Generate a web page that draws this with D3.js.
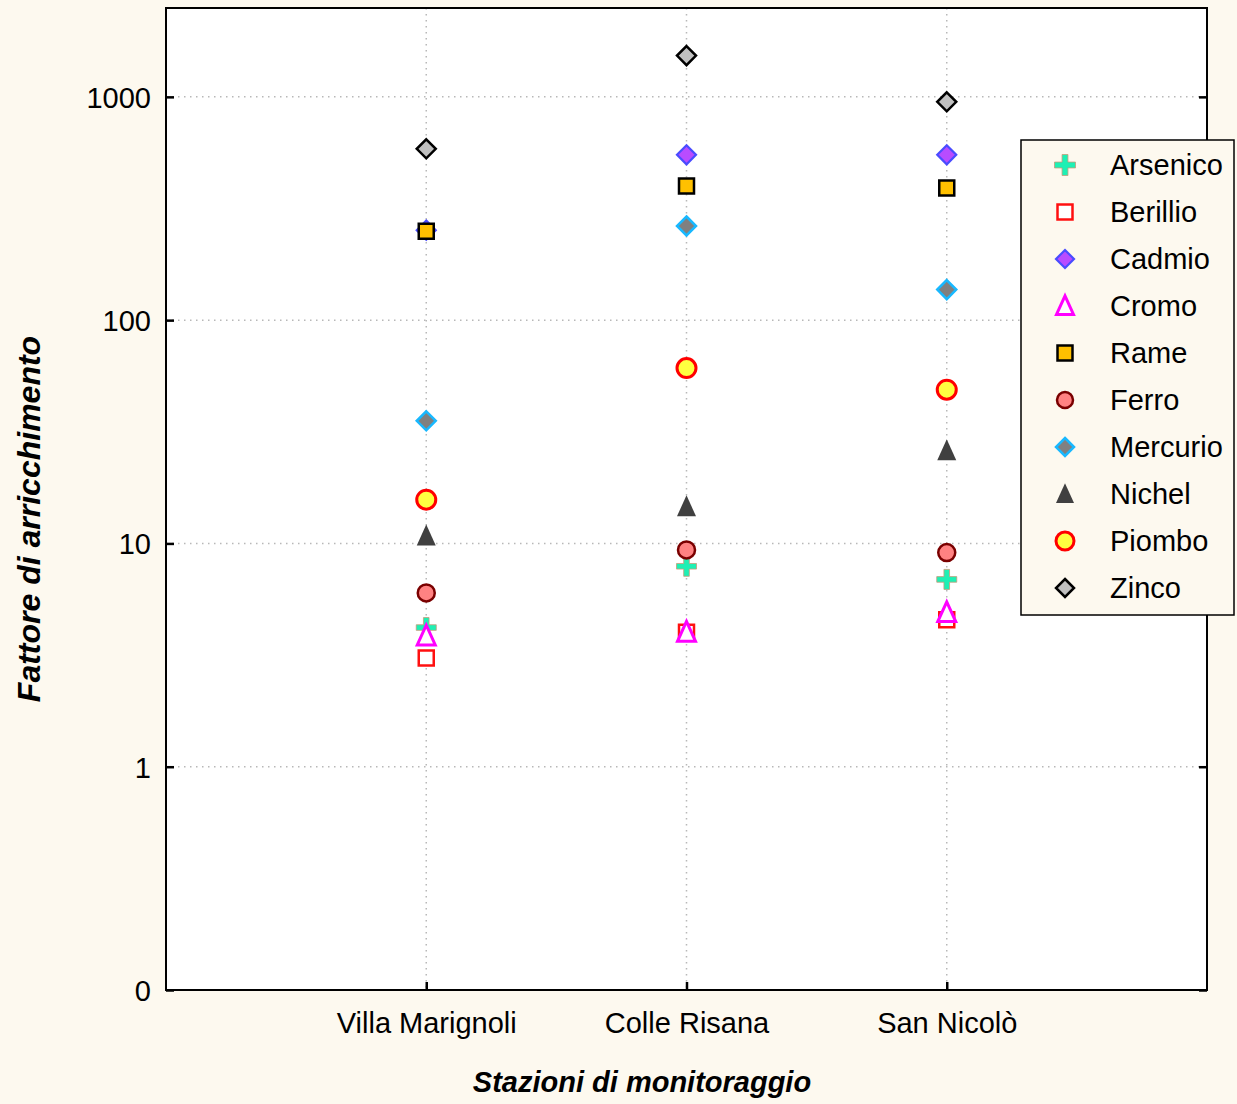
<!DOCTYPE html>
<html>
<head>
<meta charset="utf-8">
<script src="https://cdn.jsdelivr.net/npm/d3@7"></script>
<style>
  html, body { margin: 0; padding: 0; background: #fdf9ef; }
  svg { display: block; }
  text { font-family: "Liberation Sans", Arial, sans-serif; fill: #000; }
</style>
</head>
<body>
<svg id="chart" width="1237" height="1104"></svg>
<script>
// Monitoring stations (x categories)
const stations = ["Villa Marignoli", "Colle Risana", "San Nicolò"];

// Enrichment factor per element, one value per station
const arsenico = [4.2, 7.9, 6.9];
const berillio = [3.07, 4.0, 4.55];
const cadmio   = [253, 550, 550];
const cromo    = [3.85, 4.0, 4.9];
const rame     = [250, 399, 391];
const ferro    = [6.0, 9.35, 9.1];
const mercurio = [35.4, 264, 137];
const nichel   = [10.8, 14.6, 26];
const piombo   = [15.7, 61, 48.8];
const zinco    = [585, 1530, 950];

// Y axis ticks and their printed labels
const yTicks = [0.1, 1, 10, 100, 1000];
const yTickLabels = ["0", "1", "10", "100", "1000"];

const series = [
  { name: "Arsenico", values: arsenico, shape: "plus",     fill: "#1ef0b4", stroke: "#c89a78", sw: 0.8 },
  { name: "Berillio", values: berillio, shape: "square",   fill: "#ffffff", stroke: "#ff1010", sw: 2.5 },
  { name: "Cadmio",   values: cadmio,   shape: "diamond",  fill: "#b84cff", stroke: "#4a4cff", sw: 2.2 },
  { name: "Cromo",    values: cromo,    shape: "triangle", fill: "#ffffff", stroke: "#ff00ff", sw: 3 },
  { name: "Rame",     values: rame,     shape: "square",   fill: "#ffc000", stroke: "#000000", sw: 2.5 },
  { name: "Ferro",    values: ferro,    shape: "circle",   fill: "#ff8282", stroke: "#7a0000", sw: 2.5 },
  { name: "Mercurio", values: mercurio, shape: "diamond",  fill: "#808080", stroke: "#18b8ff", sw: 2.5 },
  { name: "Nichel",   values: nichel,   shape: "triangle", fill: "#404040", stroke: "none",    sw: 0 },
  { name: "Piombo",   values: piombo,   shape: "circle",   fill: "#ffff40", stroke: "#ff0000", sw: 3 },
  { name: "Zinco",    values: zinco,    shape: "diamond",  fill: "#c0c0c0", stroke: "#000000", sw: 2.5 }
];

const svg = d3.select("#chart");
const plot = { left: 166, right: 1207, top: 8, bottom: 990 };

const x = d3.scaleLinear().domain([0, stations.length + 1]).range([plot.left, plot.right]);
const y = d3.scaleLog().domain([0.1, 2500]).range([plot.bottom, plot.top]);

// Plot background
svg.append("rect")
  .attr("x", plot.left).attr("y", plot.top)
  .attr("width", plot.right - plot.left).attr("height", plot.bottom - plot.top)
  .attr("fill", "#ffffff");

// Dotted grid
const grid = svg.append("g").attr("stroke", "#b8b8b8").attr("stroke-width", 1.5)
  .attr("stroke-dasharray", "1.5,4.5");
grid.selectAll("line.h").data(yTicks.filter(d => d > 0.1)).join("line")
  .attr("x1", plot.left).attr("x2", plot.right)
  .attr("y1", d => y(d)).attr("y2", d => y(d));
grid.selectAll("line.v").data(stations).join("line")
  .attr("x1", (d, i) => x(i + 1)).attr("x2", (d, i) => x(i + 1))
  .attr("y1", plot.top).attr("y2", plot.bottom);

// Axes with inward ticks
const yLabel = d => yTickLabels[yTicks.indexOf(d)];
const leftAxis = svg.append("g").attr("transform", `translate(${plot.left},0)`)
  .call(d3.axisLeft(y).tickValues(yTicks).tickFormat(yLabel).tickSizeInner(-8).tickSizeOuter(0).tickPadding(15));
const rightAxis = svg.append("g").attr("transform", `translate(${plot.right},0)`)
  .call(d3.axisRight(y).tickValues(yTicks).tickFormat("").tickSizeInner(-8).tickSizeOuter(0));
const bottomAxis = svg.append("g").attr("transform", `translate(0,${plot.bottom})`)
  .call(d3.axisBottom(x).tickValues(stations.map((d, i) => i + 1))
    .tickFormat(d => stations[d - 1]).tickSizeInner(-8).tickSizeOuter(0).tickPadding(22));
[leftAxis, rightAxis, bottomAxis].forEach(g => {
  g.select(".domain").remove();
  g.selectAll(".tick line").attr("stroke", "#000").attr("stroke-width", 2.5);
  g.selectAll(".tick text").attr("font-size", 29).attr("fill", "#000")
    .attr("font-family", "'Liberation Sans', Arial, sans-serif");
});
leftAxis.selectAll(".tick text").attr("dy", "0.36em");
bottomAxis.selectAll(".tick text").attr("dy", "0.71em");

// Frame
svg.append("rect")
  .attr("x", plot.left).attr("y", plot.top)
  .attr("width", plot.right - plot.left).attr("height", plot.bottom - plot.top)
  .attr("fill", "none").attr("stroke", "#000").attr("stroke-width", 2);

// Marker path builder (size = full width in px)
function markerPath(shape, s) {
  const h = s / 2;
  switch (shape) {
    case "square": return `M${-h},${-h}H${h}V${h}H${-h}Z`;
    case "diamond": return `M0,${-h}L${h},0L0,${h}L${-h},0Z`;
    case "triangle": return `M0,${-s * 0.6}L${h},${s * 0.5}L${-h},${s * 0.5}Z`;
    case "circle": return `M${h},0A${h},${h} 0 1,1 ${-h},0A${h},${h} 0 1,1 ${h},0Z`;
    case "plus": {
      const t = s * 0.14;
      return `M${-t},${-h}H${t}V${-t}H${h}V${t}H${t}V${h}H${-t}V${t}H${-h}V${-t}H${-t}Z`;
    }
  }
}
const plotSize = { square: 15, diamond: 19, triangle: 18, circle: 17, plus: 20 };
const legendSize = { square: 15, diamond: 18, triangle: 17, circle: 16, plus: 21 };

// Data markers
const marks = svg.append("g");
series.forEach(s => {
  const sz = s.name === "Piombo" ? 19 : s.name === "Nichel" ? 19 : plotSize[s.shape];
  marks.selectAll(null).data(s.values).join("path")
    .attr("transform", (d, i) => `translate(${x(i + 1)},${y(d)})`)
    .attr("d", markerPath(s.shape, sz))
    .attr("fill", s.fill)
    .attr("stroke", s.stroke)
    .attr("stroke-width", s.sw);
});

// Legend
const legend = svg.append("g");
legend.append("rect")
  .attr("x", 1021).attr("y", 140).attr("width", 213).attr("height", 475)
  .attr("fill", "#fdf9ef").attr("stroke", "#000").attr("stroke-width", 1.5);
const rowY = i => 165 + i * 47;
const items = legend.selectAll("g.item").data(series).join("g")
  .attr("transform", (d, i) => `translate(0,${rowY(i)})`);
items.append("path")
  .attr("transform", "translate(1065,0)")
  .attr("d", d => markerPath(d.shape, d.name === "Piombo" ? 18 : d.name === "Nichel" ? 18 : legendSize[d.shape]))
  .attr("fill", d => d.fill)
  .attr("stroke", d => d.stroke)
  .attr("stroke-width", d => d.sw);
items.append("text")
  .attr("x", 1110).attr("y", 0).attr("dy", "0.36em")
  .attr("font-size", 29)
  .text(d => d.name);

// Axis titles
svg.append("text")
  .attr("transform", "translate(40,519) rotate(-90)")
  .attr("text-anchor", "middle")
  .attr("font-size", 32).attr("font-weight", "bold").attr("font-style", "italic")
  .text("Fattore di arricchimento");
svg.append("text")
  .attr("x", 642).attr("y", 1092)
  .attr("text-anchor", "middle")
  .attr("font-size", 29).attr("font-weight", "bold").attr("font-style", "italic")
  .text("Stazioni di monitoraggio");
</script>
</body>
</html>
